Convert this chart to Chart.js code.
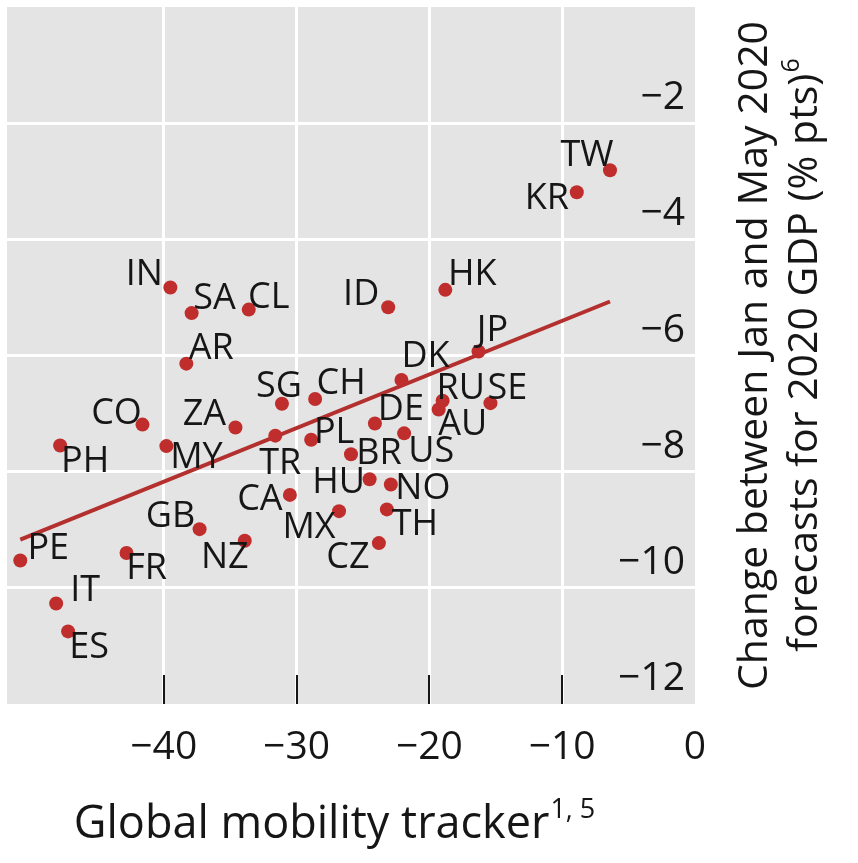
<!DOCTYPE html>
<html lang="en">
<head>
    <meta charset="UTF-8">
    <title>Mobility vs GDP forecast change</title>
    <script src="https://cdn.jsdelivr.net/npm/chart.js"></script>
    <style>
        body { margin: 0; background: #fff; }
        #chart { display: block; }
    </style>
</head>
<body>
    <canvas id="chart" width="858" height="863"></canvas>
    <script>
        // country codes, mobility tracker (x) and GDP forecast change (y)
        const countries = ['IN', 'SA', 'CL', 'AR', 'SG', 'CH', 'CO', 'ZA', 'PH', 'MY', 'TR', 'PL',
            'CA', 'HU', 'MX', 'GB', 'PE', 'FR', 'NZ', 'IT', 'ES', 'HK', 'ID', 'JP', 'DK', 'RU',
            'SE', 'AU', 'DE', 'US', 'BR', 'NO', 'TH', 'CZ', 'TW', 'KR'];
        const mobility = [-39.5, -37.9, -33.6, -38.3, -31.1, -28.6, -41.6, -34.6, -47.8, -39.8, -31.6, -28.9,
            -30.5, -24.5, -26.8, -37.3, -50.8, -42.8, -33.9, -48.1, -47.2, -18.8, -23.1, -16.3, -22.1, -19.0,
            -15.4, -19.3, -24.1, -21.9, -25.9, -22.9, -23.2, -23.8, -6.4, -8.9];
        const gdpChange = [-4.83, -5.27, -5.21, -6.14, -6.83, -6.75, -7.19, -7.24, -7.55, -7.56, -7.38, -7.45,
            -8.40, -8.13, -8.68, -8.99, -9.53, -9.40, -9.19, -10.27, -10.75, -4.87, -5.17, -5.93, -6.42, -6.78,
            -6.82, -6.93, -7.17, -7.34, -7.70, -8.22, -8.65, -9.23, -2.81, -3.19];

        // fitted trend line end points
        const trendX = [-50.8, -6.4];
        const trendY = [-9.17, -5.07];

        const xTicks = [-40, -30, -20, -10, 0];

        // where each country label sits relative to its dot (px)
        const labelDx = [-26, 23, 20, 25, -3, 26, -26, -31, 25, 30, 5, 23,
            -30, -31, -30, -29, 28, 20, -20, 29, 21, 27, -27, 14, 24, 18,
            17, 24, 26, 27, 28, 32, 28, -31, -23, -30];
        const labelDy = [-13, -14, -12, -15, -17, -15, -11, -13, 16, 12, 28, -7,
            5, 4, 17, -12, -12, 16, 17, -13, 16, -15, -13, -21, -23, -12,
            -14, 15, -14, 18, 0, 4, 15, 15, -14, 6];

        const FONT = "'Open Sans', 'Noto Sans', sans-serif";
        const INK = '#161616';
        const minus = v => String(v).replace('-', '\u2212');

        // grey panel behind the plot
        const panelBg = {
            id: 'panelBg',
            beforeDraw(chart) {
                const a = chart.chartArea, ctx = chart.ctx;
                ctx.save();
                ctx.fillStyle = '#e4e4e4';
                ctx.fillRect(a.left, a.top, a.right - a.left, a.bottom - a.top);
                ctx.restore();
            }
        };

        // short black tick marks inside the panel bottom
        const innerTicks = {
            id: 'innerTicks',
            beforeDatasetsDraw(chart) {
                const x = chart.scales.x, a = chart.chartArea, ctx = chart.ctx;
                ctx.save();
                ctx.strokeStyle = INK;
                ctx.lineWidth = 2;
                xTicks.filter(v => v < 0).forEach(v => {
                    const px = Math.round(x.getPixelForValue(v));
                    ctx.beginPath();
                    ctx.moveTo(px, a.bottom - 29);
                    ctx.lineTo(px, a.bottom);
                    ctx.stroke();
                });
                ctx.restore();
            }
        };

        // country codes next to the dots
        const pointLabels = {
            id: 'pointLabels',
            afterDatasetsDraw(chart) {
                const meta = chart.getDatasetMeta(0), ctx = chart.ctx;
                ctx.save();
                ctx.font = '36px ' + FONT;
                ctx.fillStyle = INK;
                ctx.textAlign = 'center';
                ctx.textBaseline = 'middle';
                meta.data.forEach((pt, i) => {
                    ctx.fillText(countries[i], pt.x + labelDx[i], pt.y + labelDy[i]);
                });
                ctx.restore();
            }
        };

        function textWithSup(ctx, main, sup, size, supSize, rise) {
            ctx.font = size + 'px ' + FONT;
            const w1 = ctx.measureText(main).width;
            ctx.font = supSize + 'px ' + FONT;
            const w2 = ctx.measureText(sup).width;
            let start = -(w1 + w2) / 2;
            ctx.textAlign = 'left';
            ctx.textBaseline = 'alphabetic';
            ctx.font = size + 'px ' + FONT;
            ctx.fillText(main, start, 0);
            ctx.font = supSize + 'px ' + FONT;
            ctx.fillText(sup, start + w1 + 1, -rise);
        }

        // axis titles with real superscripts
        const axisTitles = {
            id: 'axisTitles',
            afterDraw(chart) {
                const a = chart.chartArea, ctx = chart.ctx;
                ctx.save();
                ctx.fillStyle = INK;
                ctx.translate(334, 838);
                textWithSup(ctx, 'Global mobility tracker', '1, 5', 45, 27, 20);
                ctx.restore();

                const cy = (a.top + a.bottom) / 2;
                ctx.save();
                ctx.fillStyle = INK;
                ctx.translate(767, cy);
                ctx.rotate(-Math.PI / 2);
                ctx.font = '41px ' + FONT;
                ctx.textAlign = 'center';
                ctx.textBaseline = 'alphabetic';
                ctx.fillText('Change between Jan and May 2020', 0, 0);
                ctx.restore();

                ctx.save();
                ctx.fillStyle = INK;
                ctx.translate(817, cy);
                ctx.rotate(-Math.PI / 2);
                textWithSup(ctx, 'forecasts for 2020 GDP (% pts)', '6', 41, 25, 18);
                ctx.restore();
            }
        };

        const edgeless = (scale, v) => (v === scale.min || v === scale.max) ? 'rgba(0,0,0,0)' : '#ffffff';

        new Chart(document.getElementById('chart'), {
            type: 'scatter',
            data: {
                datasets: [{
                    data: countries.map((c, i) => ({ x: mobility[i], y: gdpChange[i] })),
                    backgroundColor: '#bf2e2c',
                    borderWidth: 0,
                    pointRadius: 7,
                    order: 0
                }, {
                    type: 'line',
                    data: trendX.map((x, i) => ({ x: x, y: trendY[i] })),
                    borderColor: '#b3302e',
                    borderWidth: 4,
                    pointRadius: 0,
                    fill: false,
                    order: 1
                }]
            },
            plugins: [panelBg, innerTicks, pointLabels, axisTitles],
            options: {
                responsive: false,
                animation: false,
                layout: { padding: { left: 4, top: 3, right: 163, bottom: 99 } },
                plugins: { legend: { display: false }, tooltip: { enabled: false } },
                scales: {
                    x: {
                        type: 'linear',
                        min: -51.8,
                        max: 0,
                        afterBuildTicks: s => { s.ticks = xTicks.map(v => ({ value: v })); },
                        afterFit: s => { s.paddingLeft = 0; s.paddingRight = 0; s.height = 60; },
                        border: { display: false },
                        grid: {
                            drawTicks: false,
                            lineWidth: 3,
                            color: ctx => edgeless(ctx.scale, ctx.tick && ctx.tick.value)
                        },
                        ticks: {
                            padding: 20,
                            color: INK,
                            font: { family: FONT, size: 39 },
                            callback: v => minus(v)
                        }
                    },
                    y: {
                        type: 'linear',
                        position: 'right',
                        min: -12,
                        max: 0,
                        afterFit: s => { s.paddingTop = 0; s.paddingBottom = 0; s.width = 0; },
                        border: { display: false },
                        grid: {
                            drawTicks: false,
                            lineWidth: 3,
                            color: ctx => edgeless(ctx.scale, ctx.tick && ctx.tick.value)
                        },
                        ticks: {
                            stepSize: 2,
                            mirror: true,
                            padding: -10,
                            labelOffset: -25,
                            color: INK,
                            font: { family: FONT, size: 39 },
                            callback: v => v === 0 ? '' : minus(v)
                        }
                    }
                }
            }
        });
    </script>
</body>
</html>
